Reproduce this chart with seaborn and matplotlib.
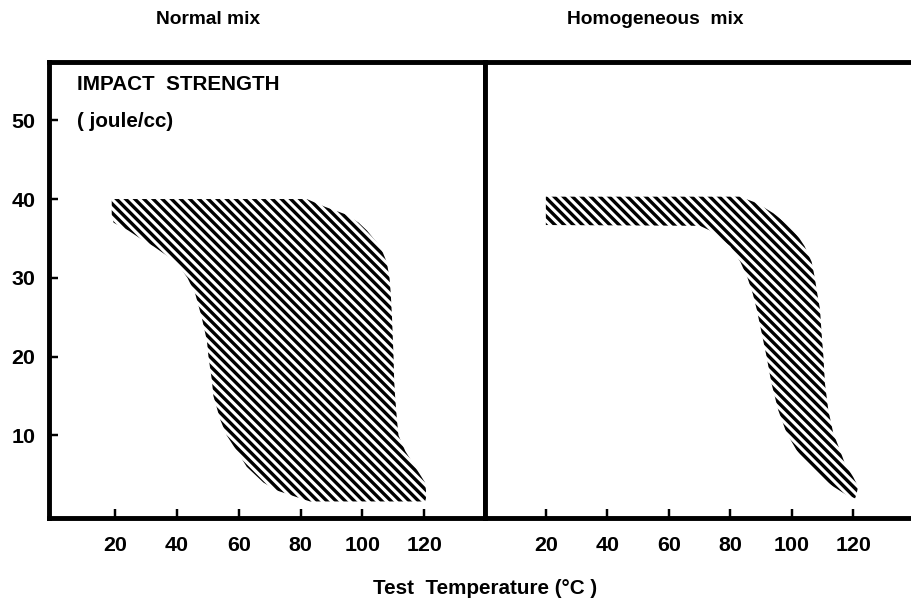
import matplotlib
matplotlib.use("Agg")
import matplotlib.pyplot as plt
import numpy as np
import pandas as pd
import seaborn as sns

# ---------------- data ----------------
panel_titles = ["Normal mix", "Homogeneous mix"]
x_ticks = [20, 40, 60, 80, 100, 120]
y_ticks = [10, 20, 30, 40, 50]

# Normal mix: band of impact strength vs test temperature
normal_strength = [40.0, 39.0, 38.0, 37.0, 36.0, 35.0, 34.0, 32.0, 30.0, 28.0, 25.0, 22.0,
                   20.0, 17.0, 15.0, 12.0, 10.0, 8.0, 6.0, 5.0, 4.0, 3.0, 2.0, 1.6]
normal_temp_low = [18.9, 18.9, 18.9, 19.5, 24.3, 28.1, 32.4, 39.7, 43.4, 45.9, 48.0, 49.7,
                   50.2, 51.3, 51.8, 54.0, 56.1, 59.4, 62.6, 65.3, 68.0, 72.3, 79.9, 83.1]
normal_temp_high = [82.0, 88.0, 95.0, 98.8, 101.5, 103.6, 105.8, 107.9, 108.8, 109.2, 109.6, 109.9,
                    110.1, 110.3, 110.6, 111.2, 111.7, 113.9, 117.1, 118.7, 120.3, 120.6, 120.6, 120.3]

# Homogeneous mix
homog_strength = [40.3, 39.5, 38.2, 36.7, 36.6, 36.0, 35.0, 34.0, 32.0, 30.0, 28.0, 26.0,
                  23.0, 20.0, 16.6, 13.2, 10.3, 8.1, 6.4, 4.7, 3.5, 2.4, 2.0]
homog_temp_low = [20.0, 20.0, 20.0, 20.0, 70.1, 73.4, 76.7, 80.0, 83.3, 85.6, 87.3, 88.6,
                  90.2, 91.8, 93.4, 95.6, 98.3, 101.6, 104.8, 109.2, 113.5, 117.9, 120.6]
homog_temp_high = [83.0, 88.6, 94.0, 98.8, 98.9, 100.5, 102.5, 104.2, 106.5, 107.5, 108.3, 109.2,
                   109.7, 110.3, 110.8, 111.9, 113.5, 115.7, 117.3, 120.0, 121.6, 121.0, 120.6]

bands = pd.concat([
    pd.DataFrame({"panel": panel_titles[0], "strength": normal_strength,
                  "low": normal_temp_low, "high": normal_temp_high}),
    pd.DataFrame({"panel": panel_titles[1], "strength": homog_strength,
                  "low": homog_temp_low, "high": homog_temp_high}),
], ignore_index=True)

BSL = chr(92)

# ---------------- style ----------------
sns.set_theme(style="white")
plt.rcParams["font.family"] = ["Liberation Sans", "DejaVu Sans"]
plt.rcParams["font.weight"] = "bold"
plt.rcParams["text.color"] = "black"
plt.rcParams["xtick.color"] = "black"
plt.rcParams["ytick.color"] = "black"
plt.rcParams["axes.labelcolor"] = "black"
plt.rcParams["hatch.linewidth"] = 2.2
plt.rcParams["hatch.color"] = "black"

DPI = 110
W, H = 911, 604
fig = plt.figure(figsize=(W / DPI, H / DPI), dpi=DPI, facecolor="white")

bottom = 1 - 518 / H
height = 456 / H
ax1 = fig.add_axes([49 / W, bottom, 436 / W, height])
ax2 = fig.add_axes([485 / W, bottom, (W - 485) / W, height])

limits = {panel_titles[0]: (-1.4, 139.7), panel_titles[1]: (0.2, 138.8)}

for ax, title in zip([ax1, ax2], panel_titles):
    d = bands[bands["panel"] == title]
    ax.fill_betweenx(d["strength"], d["low"], d["high"], facecolor="white",
                     edgecolor="black", hatch=BSL * 4, linewidth=0)
    ax.set_xlim(*limits[title])
    ax.set_ylim(-0.5, 57.4)
    ax.set_facecolor("white")
    for s in ax.spines.values():
        s.set_linewidth(3.2)
        s.set_color("black")
    ax.set_xticks(x_ticks)
    ax.set_xticklabels([str(t) for t in x_ticks])
    ax.tick_params(axis="x", direction="in", length=6, width=1.6, color="black",
                   labelsize=14, pad=12, bottom=True, top=False, labelcolor="black")
    for lab in ax.get_xticklabels():
        lab.set_fontweight("bold")
    ax.set_xlabel("")
    ax.set_ylabel("")

ax1.set_yticks(y_ticks)
ax1.set_yticklabels([str(t) for t in y_ticks])
ax1.tick_params(axis="y", direction="in", length=6, width=1.6, color="black",
                labelsize=14, pad=9, left=True, right=False, labelcolor="black")
for lab in ax1.get_yticklabels():
    lab.set_fontweight("bold")
ax2.set_yticks([])
ax2.spines["right"].set_visible(False)

ax1.text(0.064, 0.95, "IMPACT  STRENGTH", transform=ax1.transAxes, ha="left", va="center",
         fontsize=13.5, fontweight="bold")
ax1.text(0.064, 0.87, "( joule/cc)", transform=ax1.transAxes, ha="left", va="center",
         fontsize=13.5, fontweight="bold")

fig.text(208 / W, 1 - 20 / H, panel_titles[0], ha="center", va="center",
         fontsize=12.5, fontweight="bold")
fig.text(655 / W, 1 - 20 / H, "Homogeneous  mix", ha="center", va="center",
         fontsize=12.5, fontweight="bold")
fig.text(485 / W, 1 - 588 / H, "Test  Temperature (°C )", ha="center", va="center",
         fontsize=13.5, fontweight="bold")

fig.savefig("out.png", dpi=DPI, facecolor="white")
